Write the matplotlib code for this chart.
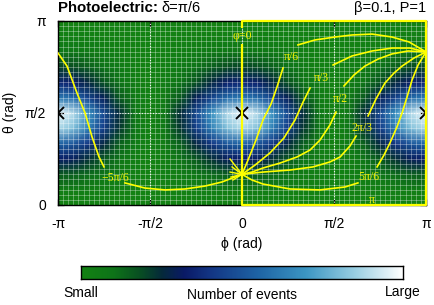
import numpy as np
import matplotlib
matplotlib.use("Agg")
import matplotlib.pyplot as plt
from matplotlib.colors import LinearSegmentedColormap

PI = np.pi

# ---------------- data ----------------
# event density (colour-bar fraction) : profile along phi (at the bright row)
phi_nodes_deg = [-180, -165, -150, -135, -120, -105, -90, -75, -60, -45, -30, -15, 0,
                 15, 30, 45, 60, 75, 90, 105, 120, 135, 150, 165, 180]
phi_profile = [1.0, 0.92, 0.72, 0.48, 0.26, 0.08, 0.0, 0.08, 0.26, 0.48, 0.72, 0.92, 1.0,
               0.92, 0.72, 0.48, 0.26, 0.08, 0.0, 0.08, 0.26, 0.48, 0.72, 0.92, 1.0]
# profile along theta (at phi = 0)
theta_nodes_deg = [0, 15, 30, 45, 60, 75, 90, 105, 120, 135, 150, 165, 180]
theta_profile = [0.0, 0.04, 0.16, 0.33, 0.55, 0.88, 0.97, 0.62, 0.36, 0.20, 0.08, 0.02, 0.0]

# yellow curves, points in units of pi: (phi/pi, theta/pi); nan = gap for label
curve_m5pi6_phi = [0, -0.109, -0.201, -0.310, -0.418, -0.527, -0.636, np.nan,
                   -0.750, -0.777, -0.815, -0.853, -0.897, -0.951, -1.0]
curve_m5pi6_th = [1/6, 0.125, 0.103, 0.087, 0.082, 0.092, 0.120, np.nan,
                  0.207, 0.261, 0.370, 0.500, 0.609, 0.755, 0.826]

curve_pi6_phi = [0, 0.033, 0.076, 0.114, 0.158, 0.190, 0.223, np.nan,
                 0.304, 0.397, 0.505, 0.598, 0.707, 0.815, 0.908, 1.0]
curve_pi6_th = [1/6, 0.245, 0.353, 0.462, 0.549, 0.641, 0.745, np.nan,
                0.870, 0.897, 0.913, 0.924, 0.929, 0.913, 0.886, 0.832]

curve_pi3_phi = [0, 0.071, 0.152, 0.228, 0.288, 0.332, 0.370, np.nan,
                 0.495, 0.598, 0.707, 0.815, 0.913, 1.0]
curve_pi3_th = [1/6, 0.217, 0.283, 0.364, 0.462, 0.560, 0.636, np.nan,
                0.761, 0.810, 0.837, 0.853, 0.853, 0.832]

curve_pi2_phi = [0, 0.054, 0.114, 0.207, 0.299, 0.370, 0.424, 0.478, 0.511, np.nan,
                 0.554, 0.609, 0.668, 0.739, 0.815, 0.902, 1.0]
curve_pi2_th = [1/6, 0.179, 0.201, 0.228, 0.261, 0.299, 0.353, 0.435, 0.505, np.nan,
                0.647, 0.707, 0.755, 0.793, 0.821, 0.837, 0.832]

curve_2pi3_phi = [0, 0.114, 0.261, 0.386, 0.478, 0.533, 0.587, 0.620, np.nan,
                  0.685, 0.728, 0.777, 0.826, 0.870, 0.935, 1.0]
curve_2pi3_th = [1/6, 0.179, 0.190, 0.207, 0.234, 0.261, 0.321, 0.375, np.nan,
                 0.484, 0.576, 0.663, 0.717, 0.755, 0.799, 0.832]

curve_5pi6_phi = [0, 0.054, 0.114, 0.261, 0.424, 0.560, 0.630, np.nan,
                  0.734, 0.772, 0.804, 0.842, 0.870, 0.897, 0.924, 0.957, 1.0]
curve_5pi6_th = [1/6, 0.136, 0.114, 0.087, 0.082, 0.098, 0.120, np.nan,
                 0.207, 0.272, 0.337, 0.424, 0.500, 0.587, 0.679, 0.761, 0.832]

# the phi=0 and phi=pi paths (frame of the right half)
curve_0_phi = [0, 0, np.nan, 0, 0, 1, 1]
curve_0_th = [1/6, 0.875, np.nan, 0.96, 1, 1, 5/6]
curve_pi_phi = [0, 0, 1, 1]
curve_pi_th = [1/6, 0, 0, 5/6]

# short rays left of the convergence point
ray_end_phi = [-0.065, -0.054, -0.065, -0.060, -0.049]
ray_end_th = [0.250, 0.207, 0.179, 0.152, 0.136]

curve_labels = ["\u03c6=0", "\u03c0", "\u22125\u03c0/6", "\u03c0/6", "\u03c0/3",
                "\u03c0/2", "2\u03c0/3", "5\u03c0/6"]
label_phi = [0.0, 0.707, -0.690, 0.266, 0.429, 0.533, 0.652, 0.690]
label_th = [0.918, 0.027, 0.147, 0.804, 0.690, 0.576, 0.418, 0.152]

marker_phi = [-1.0, 0.0, 1.0]
marker_th = [0.5, 0.5, 0.5]

xtick_labels = ["-\u03c0", "-\u03c0/2", "0", "\u03c0/2", "\u03c0"]
ytick_labels = ["0", "\u03c0/2", "\u03c0"]

# ---------------- figure ----------------
plt.rcParams["font.family"] = ["Liberation Sans", "DejaVu Sans"]
fig = plt.figure(figsize=(4.34, 3.05), dpi=100)
W, H = 434.0, 305.0
ax = fig.add_axes([58 / W, 100 / H, 368 / W, 184 / H])

cmap = LinearSegmentedColormap.from_list("events", [
    (0.00, "#138213"), (0.10, "#0e7419"), (0.18, "#095022"), (0.25, "#052a3a"),
    (0.32, "#0a1a66"), (0.40, "#133584"), (0.55, "#1e64a5"), (0.70, "#3c96c3"),
    (0.85, "#98cee2"), (1.00, "#ffffff")])

phi_n = np.radians(phi_nodes_deg)
th_n = np.radians(theta_nodes_deg)
Z = np.outer(theta_profile, phi_profile)
ax.pcolormesh(phi_n, th_n, Z, shading="gouraud", cmap=cmap, vmin=0, vmax=1,
              zorder=0, rasterized=True)

# fine bin grid (5 degrees)
for v in np.radians(np.arange(-180, 181, 5)):
    ax.axvline(v, color="white", alpha=0.38, lw=0.6, zorder=1)
for h in np.radians(np.arange(0, 181, 5)):
    ax.axhline(h, color="white", alpha=0.38, lw=0.6, zorder=1)
# major dotted grid
for v in [-PI / 2, 0, PI / 2]:
    ax.axvline(v, color="white", lw=0.8, ls=(0, (1, 1.5)), alpha=0.9, zorder=2)
ax.axhline(PI / 2, color="white", lw=0.8, ls=(0, (1, 1.5)), alpha=0.9, zorder=2)

ax.set_xlim(-PI, PI)
ax.set_ylim(0, PI)

yel = "#ffff00"
curves = [(curve_m5pi6_phi, curve_m5pi6_th), (curve_pi6_phi, curve_pi6_th),
          (curve_pi3_phi, curve_pi3_th), (curve_pi2_phi, curve_pi2_th),
          (curve_2pi3_phi, curve_2pi3_th), (curve_5pi6_phi, curve_5pi6_th)]
for cp, ct in curves:
    ax.plot(np.array(cp) * PI, np.array(ct) * PI, color=yel, lw=1.2, zorder=4)
for cp, ct in [(curve_0_phi, curve_0_th), (curve_pi_phi, curve_pi_th)]:
    ax.plot(np.array(cp) * PI, np.array(ct) * PI, color=yel, lw=1.6, zorder=6,
            clip_on=False, solid_capstyle="butt")
for rp, rt in zip(ray_end_phi, ray_end_th):
    ax.plot([0, rp * PI], [PI / 6, rt * PI], color=yel, lw=1.0, zorder=4)

for txt, lp, lt in zip(curve_labels, label_phi, label_th):
    ax.text(lp * PI, lt * PI, txt, color="#f0f000", fontsize=8.5, ha="center",
            va="center", family=["Liberation Serif", "DejaVu Serif"], zorder=7)

ax.plot(np.array(marker_phi) * PI, np.array(marker_th) * PI, ls="none",
        marker="x", ms=8, mew=1.4, color="black", zorder=5)

ax.set_xticks([-PI, -PI / 2, 0, PI / 2, PI])
ax.set_xticklabels(xtick_labels)
ax.set_yticks([0, PI / 2, PI])
ax.set_yticklabels(ytick_labels)
ax.tick_params(direction="in", length=4, width=0.9, top=True, right=True,
               labelsize=10, pad=8.5, colors="black")
for s in ax.spines.values():
    s.set_linewidth(1.0)
    s.set_color("black")

fig.text(242 / W, 1 - 244 / H, "\u03d5 (rad)", ha="center", va="center", fontsize=10)
fig.text(10 / W, 1 - 112 / H, "\u03b8 (rad)", ha="center", va="center",
         fontsize=10, rotation=90)

# titles
fig.text(58 / W, 1 - 12 / H, "Photoelectric:", ha="left", va="baseline",
         fontsize=10.8, fontweight="bold")
fig.text(161 / W, 1 - 12 / H, "\u03b4=\u03c0/6", ha="left", va="baseline", fontsize=10.5)
fig.text(426 / W, 1 - 12 / H, "\u03b2=0.1, P=1", ha="right", va="baseline", fontsize=10.5)

# colour bar
cax = fig.add_axes([81 / W, 26 / H, 322 / W, 13 / H])
cax.imshow(np.linspace(0, 1, 256)[None, :], aspect="auto", cmap=cmap,
           extent=[0, 1, 0, 1])
cax.set_xticks([])
cax.set_yticks([])
for s in cax.spines.values():
    s.set_linewidth(1.0)
fig.text(81 / W, 1 - 297 / H, "Small", ha="center", va="baseline", fontsize=10)
fig.text(242 / W, 1 - 299 / H, "Number of events", ha="center", va="baseline", fontsize=10)
fig.text(403 / W, 1 - 296 / H, "Large", ha="center", va="baseline", fontsize=10)

fig.savefig("out.png", dpi=100)
